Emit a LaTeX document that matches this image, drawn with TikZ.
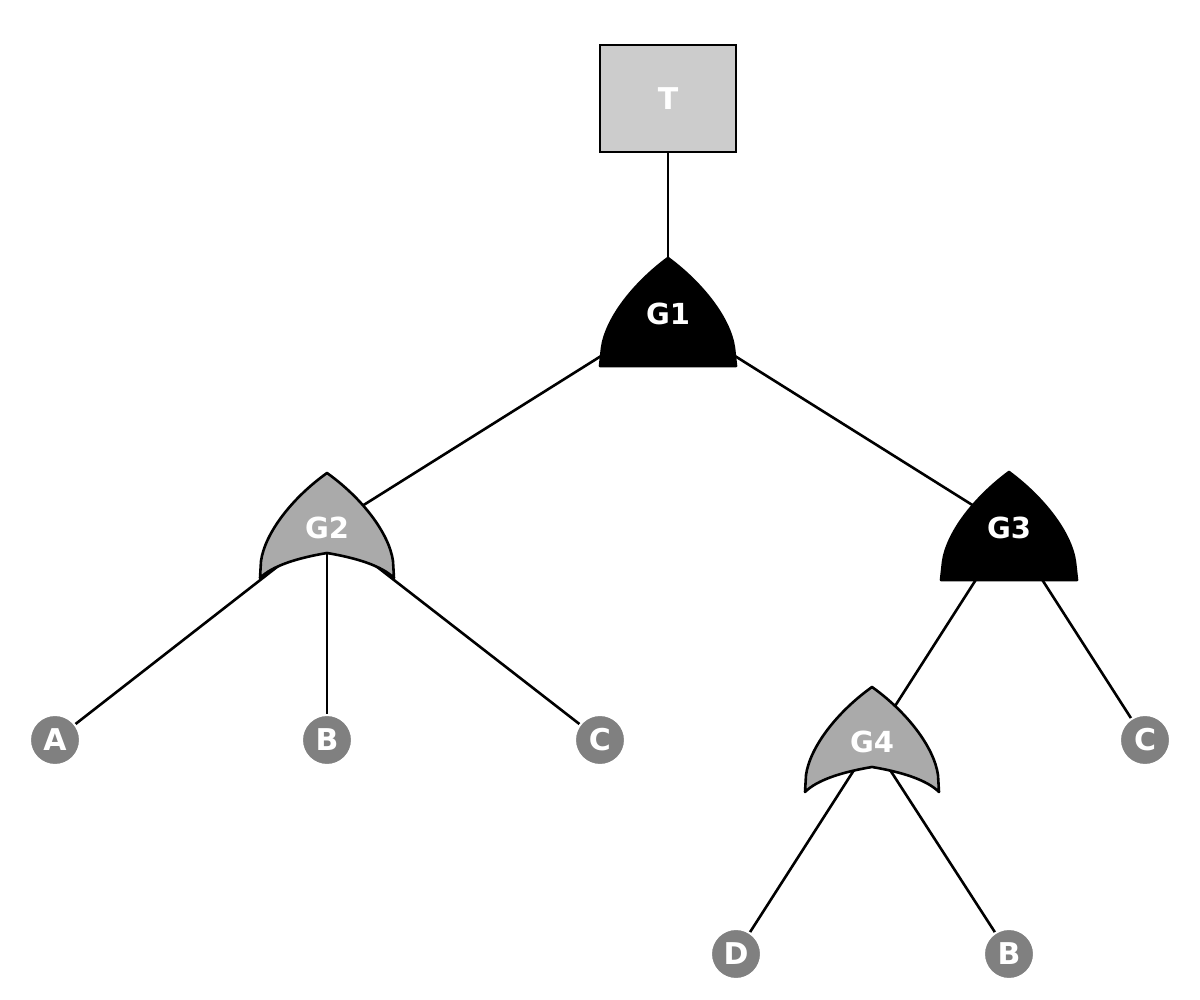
\documentclass[tikz,border=0pt]{standalone}
\usepackage{fontspec}
\setmainfont{DejaVu Sans}
\definecolor{rectgray}{HTML}{CCCCCC}
\definecolor{orgray}{HTML}{AAAAAA}
\definecolor{leafgray}{HTML}{808080}
\pgfdeclarelayer{edges}
\pgfdeclarelayer{shapes}
\pgfsetlayers{edges,shapes,main}
\begin{document}
\begin{tikzpicture}[x=0.5pt,y=-0.5pt,
  edge/.style={draw=black,line width=1.3pt},
  gt/.style={text=white,font=\fontsize{14.5}{16}\selectfont\bfseries,inner sep=0pt},
  leaf/.style={circle,fill=leafgray,draw=white,line width=1pt,minimum size=25pt,inner sep=0pt,text=white,font=\fontsize{15}{17}\selectfont\bfseries},
  topbox/.style={rectangle,fill=rectgray,draw=black,line width=1.4pt,minimum width=68pt,minimum height=53.5pt,inner sep=0pt,text=white,font=\fontsize{15}{17}\selectfont\bfseries},
  andgate/.pic={\path[fill=black,draw=black,line width=1.3pt,line join=round]
     (-68,52) -- (-66,34) .. controls (-62,5) and (-35,-30) .. (0,-56)
     .. controls (35,-30) and (62,5) .. (66,34) -- (68,52) -- cycle;},
  orgate/.pic={\path[fill=orgray,draw=black,line width=1.3pt,line join=round]
     (-67,50) -- (-66,33) .. controls (-62,5) and (-35,-30) .. (0,-55)
     .. controls (35,-30) and (62,5) .. (66,33) -- (67,50)
     .. controls (55,38) and (30,30) .. (0,25)
     .. controls (-30,30) and (-55,38) .. (-67,50) -- cycle;}
]
\useasboundingbox (0,0) rectangle (1200,1000);
% nodes
\node[topbox] (T) at (668,98.5) {T};
\node[gt] (G1) at (668,314) {G1};
\node[gt] (G2) at (327,528) {G2};
\node[gt] (G3) at (1009,528) {G3};
\node[gt] (G4) at (872,742) {G4};
\node[leaf] (A) at (55,740) {A};
\node[leaf] (B1) at (327,740) {B};
\node[leaf] (C1) at (600,740) {C};
\node[leaf] (C2) at (1145,740) {C};
\node[leaf] (D) at (736,954) {D};
\node[leaf] (B2) at (1009,954) {B};
% gate shapes
\begin{pgfonlayer}{shapes}
\pic at (G1.center) {andgate};
\pic at (G3.center) {andgate};
\pic at (G2.center) {orgate};
\pic at (G4.center) {orgate};
\end{pgfonlayer}
% connectors
\begin{pgfonlayer}{edges}
\draw[edge] (T.center) -- (G1.center);
\draw[edge] (G1.center) -- (G2.center);
\draw[edge] (G1.center) -- (G3.center);
\draw[edge] (G2.center) -- (A.center);
\draw[edge] (G2.center) -- (B1.center);
\draw[edge] (G2.center) -- (C1.center);
\draw[edge] (G3.center) -- (G4.center);
\draw[edge] (G3.center) -- (C2.center);
\draw[edge] (G4.center) -- (D.center);
\draw[edge] (G4.center) -- (B2.center);
\end{pgfonlayer}
\end{tikzpicture}
\end{document}
